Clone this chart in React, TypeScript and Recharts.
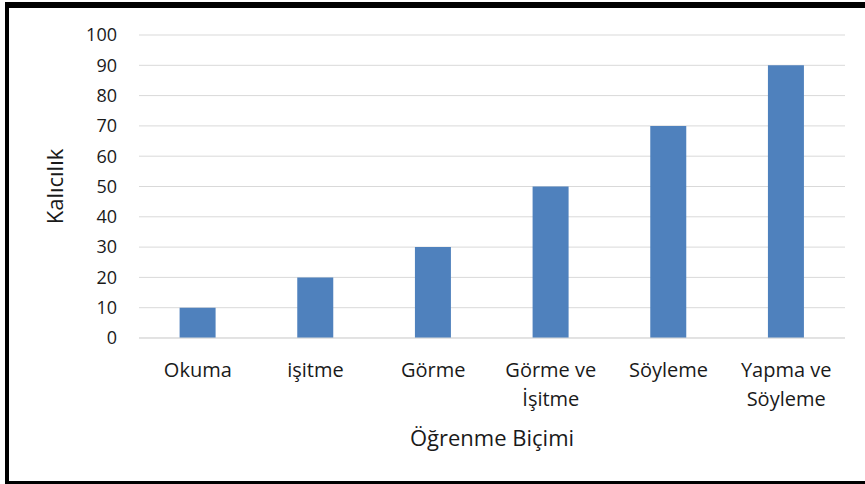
import React from "react";
import { BarChart, Bar, XAxis, YAxis, CartesianGrid, Label, Text } from "recharts";

const categories = ["Okuma", "işitme", "Görme", "Görme ve İşitme", "Söyleme", "Yapma ve Söyleme"];
const retention = [10, 20, 30, 50, 70, 90];
const yTicks = [0, 10, 20, 30, 40, 50, 60, 70, 80, 90, 100];

const data = categories.map((name, i) => ({ name, value: retention[i] }));

const FONT = "'Open Sans', sans-serif";
const INK = "#1a1a1a";
const GRID = "#d9d9d9";
const BAR = "#4f81bd";

// category names wrap onto two lines inside the band
function CategoryTick({ x, y, payload }: any) {
  return (
    <Text
      x={x}
      y={y}
      width={105}
      textAnchor="middle"
      verticalAnchor="start"
      lineHeight={29}
      style={{ fontSize: 20, fontFamily: FONT }}
      fill={INK}
    >
      {payload.value}
    </Text>
  );
}

export default function App() {
  return (
    <div
      style={{
        position: "absolute",
        left: 5,
        top: 2,
        width: 860,
        height: 482,
        boxSizing: "border-box",
        borderTop: "6px solid #000",
        borderLeft: "4px solid #000",
        borderBottom: "3px solid #000",
        background: "#fff",
      }}
    >
      <BarChart
        width={850}
        height={473}
        data={data}
        margin={{ top: 27, right: 14, left: 0, bottom: 0 }}
        barCategoryGap="34.5%"
      >
        <CartesianGrid vertical={false} stroke={GRID} strokeWidth={1} />
        <XAxis
          dataKey="name"
          height={143}
          interval={0}
          tickLine={false}
          tickSize={0}
          tickMargin={25}
          axisLine={{ stroke: GRID }}
          tick={<CategoryTick />}
        >
          <Label
            value="Öğrenme Biçimi"
            position="insideBottom"
            offset={35}
            fontSize={22}
            fontFamily={FONT}
            fill={INK}
          />
        </XAxis>
        <YAxis
          width={130}
          domain={[0, 100]}
          ticks={yTicks}
          interval={0}
          axisLine={false}
          tickLine={false}
          tickSize={0}
          tickMargin={22}
          tick={{ fontSize: 18, fontFamily: FONT, fill: INK }}
        >
          <Label
            value="Kalıcılık"
            angle={-90}
            position="insideLeft"
            offset={46}
            fontSize={22}
            fontFamily={FONT}
            fill={INK}
            style={{ textAnchor: "middle" }}
          />
        </YAxis>
        <Bar dataKey="value" fill={BAR} isAnimationActive={false} />
      </BarChart>
    </div>
  );
}
